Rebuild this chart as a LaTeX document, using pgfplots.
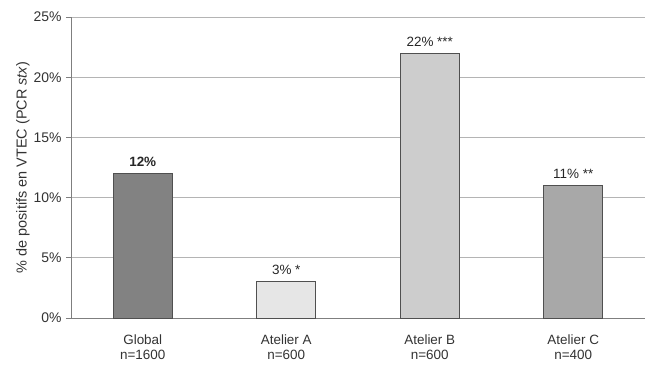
\documentclass[border=0pt]{standalone}
\usepackage{pgfplots}
\pgfplotsset{compat=1.18}
\usepackage{fontspec}
\setmainfont{Liberation Sans}
\definecolor{axisgray}{HTML}{7F7F7F}
\definecolor{gridgray}{HTML}{B4B4B4}
\definecolor{edgegray}{HTML}{505050}
\definecolor{cGlobal}{HTML}{828282}
\definecolor{cA}{HTML}{E6E6E6}
\definecolor{cB}{HTML}{CDCDCD}
\definecolor{cC}{HTML}{A8A8A8}
\begin{document}
\begin{tikzpicture}[x=1bp,y=1bp]
\begin{axis}[
  name=main, at={(0,0)}, anchor=south west,
  scale only axis, width=574bp, height=301bp,
  ybar, bar shift=0pt, bar width=59bp,
  xmin=-0.5, xmax=3.5, ymin=0, ymax=25,
  axis x line*=bottom, axis y line*=left,
  axis line style={axisgray, line width=0.9pt},
  xtick={0,1,2,3},
  xticklabels={{Global\\n=1600},{Atelier A\\n=600},{Atelier B\\n=600},{Atelier C\\n=400}},
  xticklabel style={align=center, font=\fontsize{13.5}{15}\selectfont, text=black!80, yshift=-8bp},
  major x tick style={draw=none},
  extra x ticks={0.5,1.5,2.5},
  extra x tick labels={},
  extra x tick style={tick style={draw=axisgray, line width=0.6pt}, major tick length=4bp, tick align=outside, grid=none},
  ytick={0,5,...,25},
  yticklabel={\pgfmathprintnumber{\tick}\%},
  yticklabel style={font=\fontsize{14}{16}\selectfont, text=black!80, xshift=-1bp},
  /pgf/number format/assume math mode=true,
  ytick style={draw=axisgray, line width=0.8pt},
  tick align=outside, major tick length=5bp,
  ymajorgrids, grid style={gridgray, line width=0.8pt},
  ylabel={\% de positifs en VTEC (PCR \textit{stx})},
  ylabel style={font=\fontsize{14.5}{16}\selectfont, text=black!80},
  ylabel shift=-3bp,
  nodes near coords style={font=\fontsize{13.5}{15}\selectfont, text=black!85, yshift=3bp},
  axis on top=false,
]
\addplot[fill=cGlobal, draw=edgegray, line width=0.9pt,
  nodes near coords={\textbf{\pgfmathprintnumber{\pgfplotspointmeta}\%}}]
  coordinates {(0,12)};
\addplot[fill=cA, draw=edgegray, line width=0.9pt,
  nodes near coords={\pgfmathprintnumber{\pgfplotspointmeta}\% *}]
  coordinates {(1,3)};
\addplot[fill=cB, draw=edgegray, line width=0.9pt,
  nodes near coords={\pgfmathprintnumber{\pgfplotspointmeta}\% ***}]
  coordinates {(2,22)};
\addplot[fill=cC, draw=edgegray, line width=0.9pt,
  nodes near coords={\pgfmathprintnumber{\pgfplotspointmeta}\% **}]
  coordinates {(3,11)};
\end{axis}
\pgfresetboundingbox
\useasboundingbox (-71bp,-47bp) rectangle (574bp,318bp);
\end{tikzpicture}
\end{document}
